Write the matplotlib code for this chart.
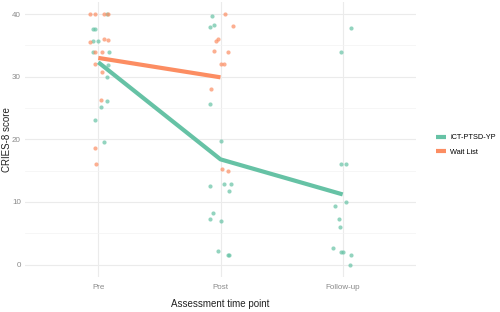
import numpy as np
import matplotlib
matplotlib.use("Agg")
import matplotlib.pyplot as plt

plt.rcParams['font.family'] = ['Liberation Sans', 'DejaVu Sans']

# time points
timepoints = ["Pre", "Post", "Follow-up"]

# group means (lines)
ict_mean = [32.3, 16.8, 11.2]
wl_mean = [33.0, 29.9]

# individual scores, x = time point index (1..3) incl. jitter
ict_x = [1.07, 0.96, 0.97, 0.96, 1.00, 0.96, 1.09, 1.08, 1.07, 1.07, 1.02, 0.97, 1.05,
         1.93, 1.91, 1.95, 1.91, 2.00, 1.91, 2.03, 2.09, 2.07, 1.94, 1.91, 2.00, 1.98, 2.06, 2.07,
         3.07, 2.99, 2.99, 3.03, 3.03, 2.94, 2.97, 2.98, 2.92, 2.99, 3.00, 3.07, 3.06]
ict_y = [40.0, 37.6, 37.6, 35.7, 35.7, 34.0, 33.9, 31.8, 29.9, 26.1, 25.2, 23.1, 19.5,
         39.7, 37.9, 38.2, 25.6, 19.7, 12.6, 12.8, 12.8, 11.7, 8.2, 7.3, 7.0, 2.1, 1.6, 1.6,
         37.7, 33.9, 16.1, 16.1, 10.0, 9.3, 7.2, 6.0, 2.6, 2.0, 2.0, 1.6, 0.0]

wl_x = [0.93, 0.97, 1.05, 1.08, 0.93, 1.05, 1.08, 0.97, 1.03, 0.97, 1.03, 1.02, 0.97, 0.98,
        2.04, 2.10, 1.96, 1.98, 1.95, 2.06, 2.00, 2.03, 1.92, 2.01, 2.06]
wl_y = [40.0, 40.0, 40.0, 40.0, 35.6, 36.1, 35.8, 34.0, 34.0, 32.0, 30.7, 26.3, 18.6, 16.1,
        40.0, 38.1, 35.7, 36.0, 34.1, 34.0, 32.0, 32.0, 28.1, 15.3, 14.9]

green = "#66c2a5"
orange = "#fc8d62"

fig = plt.figure(figsize=(5, 3.12), dpi=100)
ax = fig.add_axes([0.05, 0.112, 0.782, 0.883])

ax.scatter(ict_x, ict_y, s=9, color=green, alpha=0.7, linewidths=0, zorder=3)
ax.scatter(wl_x, wl_y, s=9, color=orange, alpha=0.7, linewidths=0, zorder=3)
ax.plot([1, 2, 3], ict_mean, color=green, lw=3, solid_capstyle='butt', zorder=4, label="iCT-PTSD-YP")
ax.plot([1, 2], wl_mean, color=orange, lw=3, solid_capstyle='butt', zorder=4, label="Wait List")

ax.set_xlim(0.4, 3.6)
ax.set_ylim(-2, 42)
ax.set_xticks([1, 2, 3])
ax.set_xticklabels(timepoints)
ax.set_yticks([0, 10, 20, 30, 40])
ax.set_yticks([5, 15, 25, 35], minor=True)
ax.grid(True, which='major', color='#ebebeb', lw=0.8)
ax.grid(True, which='minor', axis='y', color='#f3f3f3', lw=0.5)
ax.set_axisbelow(True)
for s in ax.spines.values():
    s.set_visible(False)
ax.tick_params(which='both', length=0, labelsize=5.8, labelcolor='#8a8a8a')
ax.tick_params(axis='x', pad=5)
ax.tick_params(axis='y', pad=3)

ax.set_xlabel("Assessment time point", fontsize=7, color='#222222', labelpad=6)
ax.set_ylabel("CRIES-8 score", fontsize=7, color='#222222')
ax.yaxis.set_label_coords(-0.032, 0.5)

leg = ax.legend(loc='center left', bbox_to_anchor=(1.035, 0.48), frameon=False,
                fontsize=5.3, handlelength=1.3, handletextpad=0.6, labelspacing=1.0)

fig.savefig("out.png", dpi=100)
